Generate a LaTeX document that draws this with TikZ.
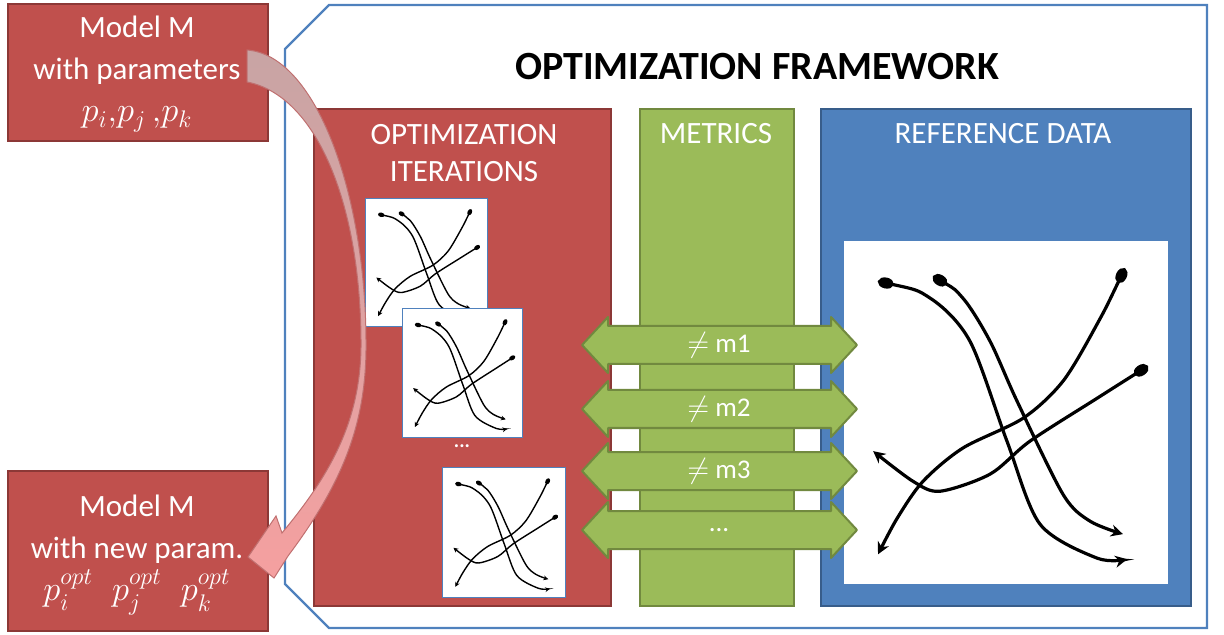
\documentclass[tikz,border=0pt]{standalone}
\usepackage{fontspec}
\setmainfont{Carlito}
\usepackage{amsmath}
\usetikzlibrary{arrows.meta}

\definecolor{panelred}{HTML}{C0504D}
\definecolor{panelredline}{HTML}{8C3836}
\definecolor{panelgreen}{HTML}{9BBB59}
\definecolor{panelgreenline}{HTML}{71893F}
\definecolor{panelblue}{HTML}{4F81BD}
\definecolor{panelblueline}{HTML}{385D8A}
\definecolor{ribbontop}{HTML}{C8A4A4}
\definecolor{ribbonbottom}{HTML}{F5A0A0}
\definecolor{ribbonline}{HTML}{C07070}

% four crossing tracks in a unit square (#1 line width, #2 tip scale)
\newcommand{\tracks}[2]{%
  \draw[line width=#1, {Ellipse[length=8pt,width=5.5pt,scale=#2]}-{Stealth[length=6pt,width=6pt,scale=#2]}]
    plot[smooth] coordinates {(0.108,0.883) (0.269,0.834) (0.392,0.708) (0.506,0.417) (0.608,0.175) (0.784,0.076) (0.877,0.073)};
  \draw[line width=#1, {Ellipse[length=8pt,width=5.5pt,scale=#2]}-{Stealth[length=6pt,width=6pt,scale=#2]}]
    plot[smooth] coordinates {(0.278,0.898) (0.370,0.834) (0.454,0.708) (0.537,0.534) (0.679,0.262) (0.762,0.184) (0.864,0.146)};
  \draw[line width=#1, {Ellipse[length=8pt,width=5.5pt,scale=#2]}-{Stealth[length=6pt,width=6pt,scale=#2]}]
    plot[smooth] coordinates {(0.870,0.921) (0.784,0.758) (0.679,0.592) (0.556,0.484) (0.370,0.397) (0.247,0.300) (0.167,0.192) (0.108,0.087)};
  \draw[line width=#1, {Ellipse[length=8pt,width=5.5pt,scale=#2]}-{Stealth[length=6pt,width=6pt,scale=#2]}]
    plot[smooth] coordinates {(0.941,0.636) (0.784,0.542) (0.577,0.417) (0.454,0.321) (0.299,0.271) (0.216,0.300) (0.093,0.388)};
}

\begin{document}
\begin{tikzpicture}[x=0.5pt, y=-0.5pt,
    panel/.style={line width=1pt, anchor=north west, inner sep=0pt},
    whitetext/.style={text=white, align=center, font=\fontsize{15.5}{18.5}\selectfont},
    plotbox/.style={draw=panelblue, line width=0.6pt, fill=white, anchor=north west, inner sep=0pt},
    metric/.style={fill=panelgreen, draw=panelgreenline, line width=1pt, line join=round}]

    \useasboundingbox (0,0) rectangle (1224,635);

    % Framework outline
    \draw[panelblue, line width=1.2pt] (329,5) -- (1207,5) -- (1207,628) -- (329,628) -- (285,584) -- (285,49) -- cycle;
    \node[font=\fontsize{20}{24}\selectfont\bfseries] (title) at (757,67) {OPTIMIZATION FRAMEWORK};

    % Panels
    \node[panel, fill=panelred, draw=panelredline, minimum width=148.5pt, minimum height=248.5pt] (iter) at (313,108) {};
    \node[panel, fill=panelgreen, draw=panelgreenline, minimum width=77pt, minimum height=248.5pt] (metrics) at (639,108) {};
    \node[panel, fill=panelblue, draw=panelblueline, minimum width=185pt, minimum height=248.5pt] (refdata) at (820,108) {};
    \node[whitetext] (iterlabel) at (464,153) {OPTIMIZATION\\ITERATIONS};
    \node[whitetext] (metricslabel) at (716,134) {METRICS};
    \node[whitetext] (reflabel) at (1003,134) {REFERENCE DATA};

    % Reference data
    \node[plotbox, draw=none, minimum width=162pt, minimum height=171.5pt] (refplot) at (843,240) {};
    \begin{scope}[shift={(refplot.south west)}, x={(162pt,0pt)}, y={(0pt,171.5pt)}]
        \tracks{1.6pt}{1}
    \end{scope}

    % Iterations
    \node[plotbox, minimum width=61pt, minimum height=64pt] (run1) at (365,198) {};
    \begin{scope}[shift={(run1.south west)}, x={(61pt,0pt)}, y={(0pt,64pt)}]
        \tracks{0.7pt}{0.4}
    \end{scope}
    \node[plotbox, minimum width=60pt, minimum height=64.5pt] (run2) at (402,308) {};
    \begin{scope}[shift={(run2.south west)}, x={(60pt,0pt)}, y={(0pt,64.5pt)}]
        \tracks{0.7pt}{0.4}
    \end{scope}
    \node[whitetext, font=\bfseries] (rundots) at (462,446) {...};
    \node[plotbox, minimum width=61.5pt, minimum height=65pt] (run3) at (442,467) {};
    \begin{scope}[shift={(run3.south west)}, x={(61.5pt,0pt)}, y={(0pt,65pt)}]
        \tracks{0.7pt}{0.4}
    \end{scope}

    % Metric arrows
    \foreach \y/\txt [count=\i] in {345/{$\neq$ m1}, 409/{$\neq$ m2}, 471/{$\neq$ m3}, 530/{...}} {
        \draw[metric] (582,\y) -- (608,\y-28) -- (608,\y-19) -- (831,\y-19) -- (831,\y-28) -- (857,\y)
            -- (831,\y+28) -- (831,\y+19) -- (608,\y+19) -- (608,\y+28) -- cycle;
        \node[whitetext, font=\fontsize{13.5}{16}\selectfont] (metric\i) at (719,\y) {\txt};
    }

    % Models
    \node[panel, fill=panelred, draw=panelredline, minimum width=130pt, minimum height=68.5pt] (model) at (7,3) {};
    \node[whitetext, font=\fontsize{15.5}{21}\selectfont] (modeltext) at (137,74) {Model M\\with parameters\\{\fontsize{17.5}{21}\selectfont$p_i{,}p_j\,{,}p_k$}};
    \node[panel, fill=panelred, draw=panelredline, minimum width=130pt, minimum height=80pt] (newmodel) at (7,470) {};
    \node[whitetext, font=\fontsize{15.5}{21}\selectfont] (newmodeltext) at (137,555) {Model M\\with new param.\\{\fontsize{17.5}{21}\selectfont$p_i^{opt}\;\;p_j^{opt}\;\;p_k^{opt}$}};

    % Curved arrow from old to new model
    \shade[top color=ribbontop, middle color=ribbontop!70!ribbonbottom, bottom color=ribbonbottom, draw=ribbonline, line width=0.5pt]
        (247,50) .. controls (315,55) and (365,190) .. (366,340)
        .. controls (367,420) and (345,480) .. (288,556)
        -- (274,578) -- (248,557) -- (276,516) -- (282,533)
        .. controls (330,475) and (362,420) .. (361,340)
        .. controls (360,200) and (315,95) .. (247,82) -- cycle;
\end{tikzpicture}
\end{document}
